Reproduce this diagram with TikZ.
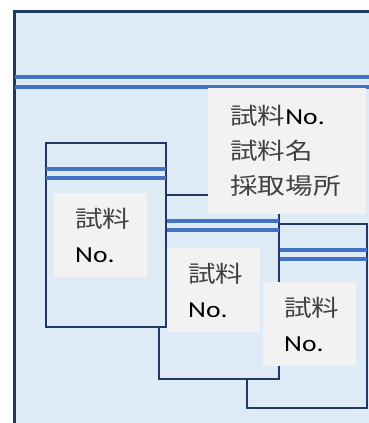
\documentclass[tikz,border=0pt]{standalone}
\usepackage{fontspec}
\newfontfamily\cjk[FakeStretch=1.2]{Noto Sans CJK JP}
\newfontfamily\lat[FakeStretch=1.2]{Carlito}
\definecolor{bagfill}{HTML}{DEEAF6}
\definecolor{bagedge}{HTML}{1F3864}
\definecolor{zipblue}{HTML}{4472C4}
\definecolor{tagfill}{HTML}{F2F2F2}
\tikzset{
	bag/.style={fill=bagfill, draw=bagedge, line width=2.5pt},
	zip/.style={draw=zipblue, line width=3.5pt},
	tagbox/.style={fill=tagfill, inner sep=0pt, anchor=north west},
	tagtext/.style={inner sep=0pt, anchor=west, align=left, text=black!75,
		font=\cjk\fontsize{23}{35}\selectfont},
}

\begin{document}
\begin{tikzpicture}[x=1pt, y=-1pt]
	\useasboundingbox (0,0) rectangle (368,423);

	% outer bag, cut off at right and bottom
	\fill[bagfill] (14,11) rectangle (372,427);
	\draw[bagedge, line width=3pt] (14,427) -- (14,11) -- (372,11);
	\draw[zip] (15,77) -- (372,77);
	\draw[zip] (15,87) -- (372,87);

	% small bags, back to front
	\foreach \x/\y in {247/224, 159/195, 46/143} {
		\draw[bag] (\x,\y) rectangle ++(120,184);
		\draw[zip] (\x,\y+26) -- ++(120,0);
		\draw[zip] (\x,\y+35) -- ++(120,0);
	}

	% labels
	\node[tagbox, minimum width=158pt, minimum height=126pt] (maintag) at (208,88) {};
	\node[tagtext] (maintext) at ([xshift=22pt]maintag.west) {試料{\lat\color{black} No.}\\試料名\\採取場所};
	\foreach \x/\y/\n in {54/193/1, 167/248/2, 263/282/3} {
		\node[tagbox, minimum width=93pt, minimum height=84pt] (tag\n) at (\x,\y) {};
		\node[tagtext] (tagtext\n) at ([xshift=21pt]tag\n.west) {試料\\{\lat\color{black} No.}};
	}
\end{tikzpicture}
\end{document}
